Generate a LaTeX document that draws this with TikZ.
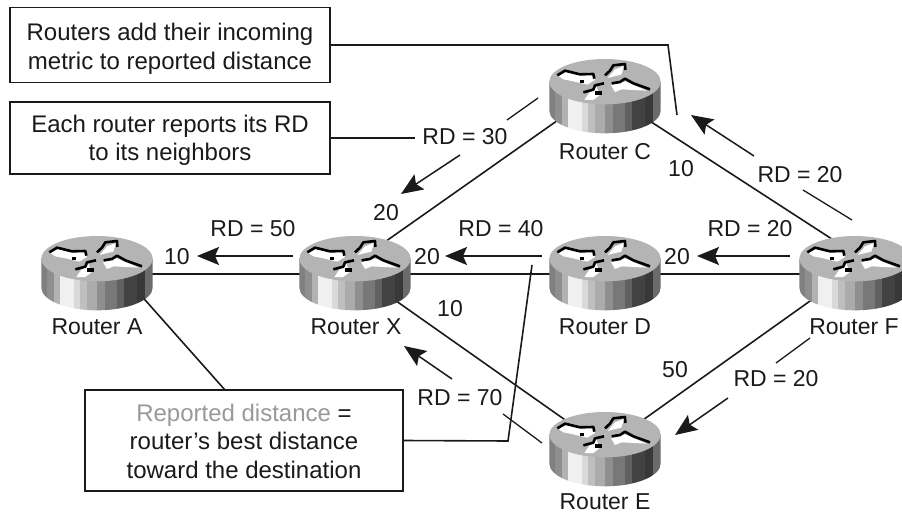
\documentclass[tikz,border=0pt]{standalone}
\usepackage{fontspec}
\setmainfont{Liberation Sans}
\usetikzlibrary{arrows.meta}
\definecolor{ink}{HTML}{1A1A1A}
\tikzset{
  routerbox/.style={minimum width=112pt,minimum height=76pt,inner sep=0pt,outer sep=0pt},
  lbl/.style={inner sep=0pt,outer sep=0pt,text=ink,font=\fontsize{23}{28}\selectfont},
  notebox/.style={draw=ink,line width=1.7pt,fill=white,inner sep=0pt,outer sep=0pt,align=center,text=ink,font=\fontsize{24}{28.5}\selectfont},
  link/.style={draw=ink,line width=1.6pt},
  flow/.style={draw=ink,line width=1.5pt,-{Stealth[length=22pt,width=18pt,inset=4pt]}},
  tick/.style={draw=ink,line width=1.3pt},
}
\definecolor{topgray}{HTML}{B4B4B4}
\newcommand{\stripe}[3]{\fill[fill=#3] (#1,90) rectangle (#2,255);}
\newcommand{\routericon}[1]{%
\begin{scope}[shift={(#1.center)},x=0.33333pt,y=-0.33333pt]
\begin{scope}[shift={(-225,-141)}]
  % side band
  \begin{scope}
    \clip (58,95) -- (58,182) arc[x radius=167,y radius=68,start angle=180,end angle=0] -- (392,95) -- cycle;
    \stripe{55}{75}{black!50}
    \stripe{75}{95}{black!44}
    \stripe{95}{115}{black!30}
    \stripe{115}{155}{black!6}
    \stripe{155}{175}{black!15}
    \stripe{175}{195}{black!25}
    \stripe{195}{225}{black!33}
    \stripe{225}{250}{black!44}
    \stripe{250}{285}{black!53}
    \stripe{285}{305}{black!62}
    \stripe{305}{345}{black!74}
    \stripe{345}{368}{black!78}
    \stripe{368}{395}{black!58}
  \end{scope}
  % top
  \fill[topgray] (225,95) ellipse[x radius=167,y radius=68];
  % white arrows
  \fill[white] (85,78) -- (108,66) -- (150,76) -- (188,74) -- (195,90) -- (172,104) -- (130,94) -- (100,88) -- cycle;
  \fill[white] (163,150) -- (178,128) -- (200,110) -- (208,136) -- (190,150) -- cycle;
  \fill[white] (233,84) -- (255,58) -- (282,48) -- (274,74) -- (248,80) -- cycle;
  \fill[white] (243,106) -- (285,94) -- (350,122) -- (275,118) -- (255,126) -- cycle;
  % black edges
  \draw[black,line width=2.6pt,line join=round] (82,76) -- (105,62) -- (150,73) -- (190,72) -- (193,86);
  \draw[black,line width=2.6pt,line join=round] (160,127) -- (190,119) -- (195,106) -- (222,100);
  \draw[black,line width=2.6pt,line join=round] (225,76) -- (240,62) -- (250,46) -- (285,42) -- (286,60);
  \draw[black,line width=2.6pt,line join=round] (245,100) -- (270,96) -- (285,86) -- (310,100) -- (360,118);
  \fill[black] (195,124) rectangle (216,134);
  \fill[black] (150,91) rectangle (163,99);
\end{scope}
\end{scope}}
\begin{document}
\begin{tikzpicture}[x=1pt,y=-1pt]
\useasboundingbox (0,0) rectangle (902,513);
\clip (0,0) rectangle (902,513);
% routers (named places, icons are drawn after the links)
\node[routerbox] (a) at (97,274) {};
\node[routerbox] (x) at (355,274) {};
\node[routerbox] (d) at (605,274) {};
\node[routerbox] (f) at (855,274) {};
\node[routerbox] (c) at (605,97) {};
\node[routerbox] (e) at (605,450) {};
% notes
\node[notebox,minimum width=320pt,minimum height=75pt] (n1) at (170,45) {\rule{0pt}{25pt}Routers add their incoming\\metric to reported distance};
\node[notebox,minimum width=320pt,minimum height=72pt] (n2) at (170,138) {\rule{0pt}{22pt}Each router reports its RD\\to its neighbors};
\node[notebox,minimum width=318pt,minimum height=101pt] (n3) at (244,440.5) {\rule{0pt}{19pt}\textcolor{black!40}{Reported distance} =\\router's best distance\\toward the destination};
% labels
\node[lbl] (rA) at (97,327) {Router A};
\node[lbl] (rX) at (356,327) {Router X};
\node[lbl] (rD) at (605,327) {Router D};
\node[lbl] (rF) at (854,327) {Router F};
\node[lbl] (rC) at (605,152) {Router C};
\node[lbl] (rE) at (605,501.5) {Router E};
\node[lbl] (rd50) at (253,229) {RD = 50};
\node[lbl] (rd40) at (501,229) {RD = 40};
\node[lbl] (rd20a) at (750,229) {RD = 20};
\node[lbl] (rd30) at (465,137) {RD = 30};
\node[lbl] (rd20b) at (800,175) {RD = 20};
\node[lbl] (rd70) at (460,398) {RD = 70};
\node[lbl] (rd20c) at (776,379) {RD = 20};
\node[lbl] (m1) at (177,257) {10};
\node[lbl] (m2) at (427,257) {20};
\node[lbl] (m3) at (677,257) {20};
\node[lbl] (m4) at (386,213) {20};
\node[lbl] (m5) at (681,169) {10};
\node[lbl] (m6) at (450,309) {10};
\node[lbl] (m7) at (675,370) {50};
% links
\draw[link] (a.center) -- (x.center);
\draw[link] (x.center) -- (d.center);
\draw[link] (d.center) -- (f.center);
\draw[link] ([yshift=11pt]x.center) -- ([yshift=10pt]c.center);
\draw[link] ([yshift=5pt]c.center) -- ([yshift=20pt]f.center);
\draw[link] ([yshift=2pt]x.center) -- ([yshift=2pt]e.center);
\draw[link] ([yshift=3pt]e.center) -- ([yshift=5pt]f.center);
% callout lines
\coordinate (k1) at (668,45);
\coordinate (k1e) at (677,115);
\draw[link] (n1.east) -- (k1) -- (k1e);
\coordinate (k2) at (415,138);
\draw[link] (n2.east) -- (k2);
\coordinate (k3) at (508,441);
\coordinate (k3e) at (532,265);
\draw[link] (n3.east) -- (k3) -- (k3e);
\draw[link] ([shift={(41,18)}]a.center) -- ([xshift=-19pt]n3.north);
% flow arrows
\coordinate (s50) at (293,256); \coordinate (t50) at (197,256);
\coordinate (s40) at (542,256); \coordinate (t40) at (445,256);
\coordinate (s20a) at (790,256); \coordinate (t20a) at (697,256);
\coordinate (s30) at (460,155); \coordinate (t30) at (401,194);
\coordinate (s20b) at (754,156); \coordinate (t20b) at (691,115);
\coordinate (s70) at (452,379); \coordinate (t70) at (404,346);
\coordinate (s20c) at (728,398); \coordinate (t20c) at (675,435);
\draw[flow] (s50) -- (t50);
\draw[flow] (s40) -- (t40);
\draw[flow] (s20a) -- (t20a);
\draw[flow] (s30) -- (t30);
\draw[flow] (s20b) -- (t20b);
\draw[flow] (s70) -- (t70);
\draw[flow] (s20c) -- (t20c);
% ticks beyond the labels
\coordinate (u30a) at (538,98); \coordinate (u30b) at (507,120);
\coordinate (u20ba) at (803,190); \coordinate (u20bb) at (852,220);
\coordinate (u70a) at (503,414); \coordinate (u70b) at (542,443);
\coordinate (u20ca) at (810,338); \coordinate (u20cb) at (776,363);
\draw[tick] (u30a) -- (u30b);
\draw[tick] (u20ba) -- (u20bb);
\draw[tick] (u70a) -- (u70b);
\draw[tick] (u20ca) -- (u20cb);
% router icons on top
\routericon{a}\routericon{x}\routericon{d}\routericon{f}\routericon{c}\routericon{e}
\end{tikzpicture}
\end{document}
